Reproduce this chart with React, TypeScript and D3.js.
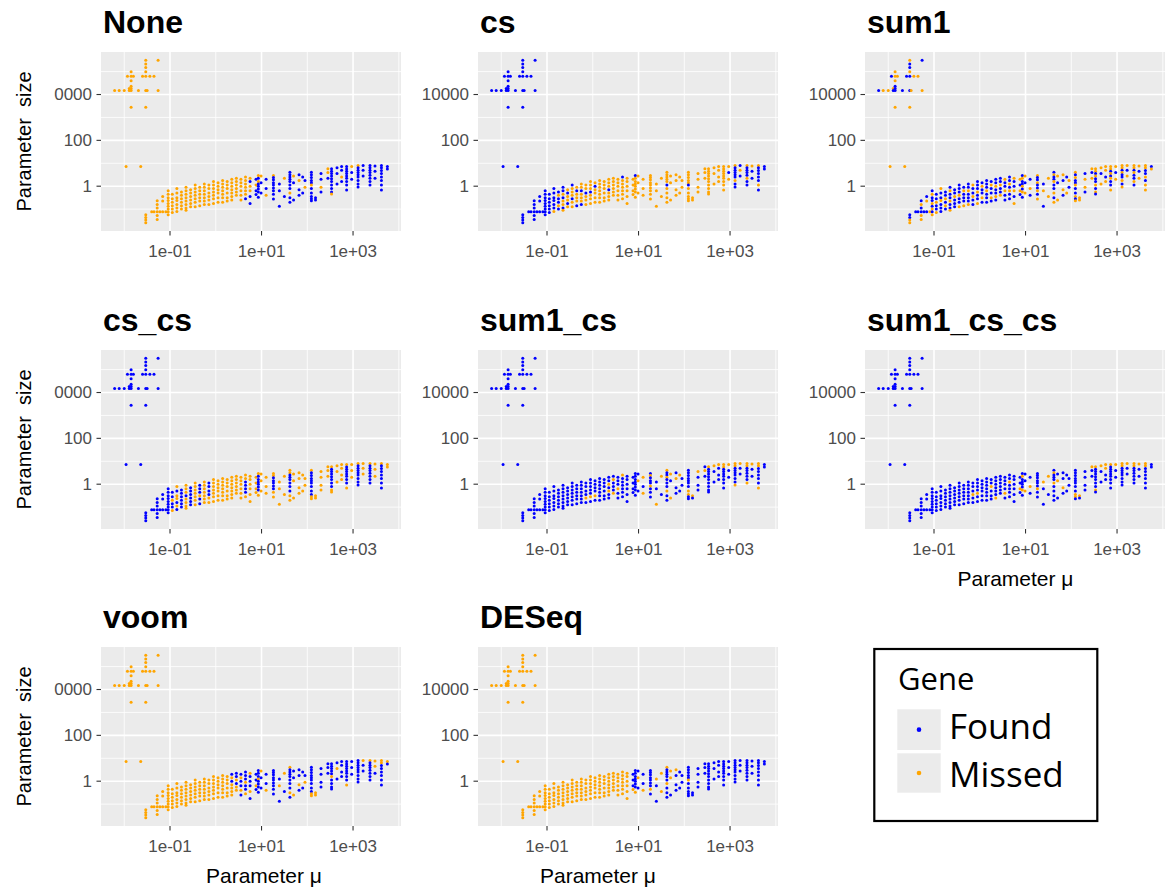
import React from "react";
import * as d3 from "d3";

// simulated genes, grouped in columns of equal mean: log10(mu) of the column
const columnLogMu: number[] = [
  -2.21, -2.11, -2.0, -1.96, -1.93, -1.89, -1.85, -1.8, -1.69, -1.64,
  -1.6, -1.53, -1.53, -1.5, -1.44, -1.4, -1.35, -1.28, -1.26, -1.22,
  -1.16, -1.09, -1.04, -0.95, -0.85, -0.75, -0.65, -0.55, -0.45, -0.35,
  -0.25, -0.15, -0.05, 0.05, 0.15, 0.25, 0.35, 0.45, 0.55, 0.65,
  0.75, 0.88, 0.93, 0.99, 1.1, 1.26, 1.39, 1.5, 1.62, 1.7,
  1.95, 2.09, 2.18, 2.3, 2.45, 2.53, 2.65, 2.75, 2.86, 2.97,
  3.11, 3.22, 3.37, 3.48, 3.62, 3.75, 1.82, 1.9,
];

// log10(size) of the genes in each column
const columnLogSize: number[][] = [
  [4.17], [4.17], [4.17], [0.86], [4.8], [4.26, 4.17],
  [4.99, 4.8, 4.6, 4.36, 4.26, 4.17, 3.44], [4.8], [4.17], [0.86],
  [4.8], [5.5, 5.33, 5.18, 4.99, 4.8, 4.17, 3.44], [-1.25, -1.37, -1.48, -1.6],
  [4.17], [4.8], [-1.11], [4.8, -1.11], [-0.63, -0.8, -0.95, -1.11, -1.28, -1.45],
  [5.5, 4.17], [-1.11],
  [-0.45, -0.65, -1.11], [-1.11], [-0.2, -0.35, -0.5, -0.62, -0.75, -0.88, -1.0, -1.11, -1.25],
  [-0.35, -0.55, -0.7, -0.85, -1.0, -1.15], [-0.1, -0.3, -0.5, -0.62, -0.8, -0.95, -1.1],
  [-0.25, -0.4, -0.55, -0.7, -0.85, -1.0], [-0.05, -0.2, -0.35, -0.5, -0.65, -0.8, -0.95, -1.05],
  [-0.15, -0.3, -0.45, -0.6, -0.75, -0.9], [0.05, -0.1, -0.25, -0.4, -0.55, -0.7, -0.9],
  [-0.05, -0.2, -0.35, -0.5, -0.65, -0.85],
  [0.1, -0.05, -0.2, -0.35, -0.5, -0.65, -0.8], [0.05, -0.1, -0.3, -0.45, -0.6, -0.8],
  [0.2, 0.05, -0.1, -0.25, -0.4, -0.55, -0.75], [0.15, 0.0, -0.15, -0.3, -0.5, -0.7],
  [0.25, 0.1, -0.05, -0.2, -0.35, -0.5, -0.7], [0.2, 0.05, -0.1, -0.3, -0.5, -0.65],
  [0.3, 0.15, 0.0, -0.15, -0.3, -0.45, -0.6], [0.35, 0.2, 0.05, -0.1, -0.25, -0.4],
  [0.3, 0.15, 0.0, -0.2, -0.4, -0.6], [0.4, 0.25, 0.1, -0.05, -0.2, -0.35, -0.55],
  [0.35, 0.2, 0.0, -0.2, -0.45, -0.75], [0.3, 0.05, -0.2, -0.36],
  [0.47, 0.35, 0.2, 0.1, 0.0, -0.12, -0.25, -0.48], [0.45, 0.15, -0.3], [0.3, -0.1, -0.4],
  [0.47, 0.38, 0.28, 0.15, 0.05, -0.08, -0.2, -0.35, -0.56], [0.1, -0.2, -0.87], [0.35, -0.45],
  [0.61, 0.5, 0.4, 0.3, 0.2, 0.05, -0.1, -0.3, -0.5, -0.7], [0.45, 0.15, -0.6],
  [0.25, -0.05], [0.61, 0.5, 0.38, 0.25, 0.15, 0.05, -0.1, -0.3, -0.45, -0.55, -0.63],
  [-0.5, -0.6], [0.55, 0.3, -0.05, -0.25], [0.76, 0.6, 0.35],
  [0.76, 0.65, 0.55, 0.45, 0.32, 0.2, 0.05, -0.1, -0.25, -0.34], [0.8, 0.55, 0.1],
  [0.86, 0.7, 0.4, 0.2], [0.86, 0.75, 0.65, 0.55, 0.45, 0.35, 0.2, 0.05, -0.17],
  [0.86, 0.6, 0.3], [0.9, 0.8, 0.7, 0.6, 0.5, 0.4, 0.25, 0.1, -0.04], [0.9, 0.7, 0.45],
  [0.9, 0.8, 0.7, 0.6, 0.48, 0.35, 0.2, 0.05], [0.88, 0.65, 0.35],
  [0.9, 0.8, 0.68, 0.55, 0.4, 0.25, 0.05, -0.17], [0.86, 0.75],
  [0.5, 0.25, -0.15, -0.4], [0.4, -0.3],
];

const panelNames = ["None", "cs", "sum1", "cs_cs", "sum1_cs", "sum1_cs_cs", "voom", "DESeq"];

// F = Found, M = Missed. One chunk per column; a single letter covers the whole column
const statusNone = `
M M M M M M M M M M
M M M M M M M M M M
M M M M M M M M M M
M M M M M M M M M MMMMMMF
MFMMFF FMFF MFMFFFFF MFF FFM MFFFFFFFF FFF MF FFFFFFFMFF MFF
FM FFFFFMFFFFF FF FFMF MMF FFFFFFFFFM FFF FFMF F MFF
MFFFFFFFF F F F F F FMFF FF`;

const statusCs = `
F F F F F F F F F F
F F F F F F F F F F
F F F F FFFFFFM FMFFMF FFMFMMFM MFMMFM FMMMFMM MFMMMF
MMFMMMF MMFMMM MMMFMMM MFMMMM M M MMMFMMM M M FMMMMMM
M M FMMMMMMM M M M M M MMMMMFMMMM M
M MMMMMFMMMMM M M M M M M M MFM
MFFFFFMFF FMF MFFFFMFF MFF MFFFFFMF FF M M`;

const statusSum1 = `
F M M M F MF MMMFFFM M F M
F MFFMFFM FFMM M M F MF FMFFMM FM F
FMF M FMFFMFMFM FFMFFM MFFMFFF FFMFMF FMFFMFFM FFMFFF FFFMFFM FMFFFM
FFMFFFM MFFMFF FFFMFFM FMFFMF FFFMFFF FMFFMF FFMFFMF FFMFFM MFFMFF FFMFMFF
MFFMFM MFMF FMFFMFMF MFM FMF MFFMFFMFM FMF MM FMFFMFFMFM MFM
MF MFMFFMFFMFM MM FMMF MFM MMFMFFMFMF MFM MMFM MMFMFMFFM MFM
MMFMFFMFM MFM MMFMFFMF MFM MMFFMFMM FM MFMF FM`;

const statusCsCs = `
F F F F F F F F F F
F F F F F F F F F F
F F F FFMFFM MFMMFMF FFFFFF MMMFMMMM FFFFFF MMMMMMM FFFMFF
M FFFFMM M M M M M M M MMFFFFM
M M MFFFFFFM M M MMFFFFFMM M M MMFFFFFFMM M
M MFFFFFFFFMM M M M MFFFFFFFMM M M MFFFFFFFM M
MFFFFFFFF M MFFFFFFF M MFFFFFFF M M M`;

const statusSum1Cs = `
F F F F F F F F F F
F F F F F F F F F F
F F F F F F F F F F
F FFFFMF FFFFFMF FFFFMF F F FFMFMFF FMFFFM FFFMFF MFFFFFF
F F F FMF MFM FMFFFMFFF FFM MF MFFMFFFMFF MFM
F FFFFFFFMMFF MF MFFF FMF MFFFFFFFFF MFF MFFF MMFFFFFFF MFF
MMFFFFFFM MFF MMFFFFFM MFF MMFFFFFM F FMFF MF`;

const statusSum1CsCs = `
F F F F F F F F F F
F F F F F F F F F F
F F F F F F F F F F
F FFFMFF FFFFMFF F F FFMFFF FFFFFFM F FFFFMF FFMFFFF
F FFMF FMFFFFMF FFM FMF FFFFFFMFF MFF MF FMFFFMFFFF FMF
F FFFFFFFFMMF MF F MFF MFFFFFFFMF MFF MMFF MFFFFFFFF MFF
MMFFFFFFF MFF MMFFFFFF MFF MMFFFFFF F FFMF FF`;

const statusVoom = `
M M M M M M M M M M
M M M M M M M M M M
M M M M M M M M M M
M M M M M M FMFMMMM FFMFMM FMFFMF FFFMFFM
MFFFMF FFMF FFFMFFFF MFF FFM F FMF MF MFFFFFFFMF FFM
FM FFFFFFFFFMM MM F F FFFFFMFFFF FMF F FFFFFFFFM F
F MFF MFFFFFFF MMF MMFFFFFF MF FFMF FF`;

const statusDESeq = `
M M M M M M M M M M
M M M M M M M M M M
M M M M M M M M M M
M M M M M M M M M M
M FFFM FFFFFFFM FMF FFM FFFFFFFMF MFF MM MFFFFFMFFF MMF
F FFFFFMFFFFF F F F F F F F F
F F F F F F MFFF FF`;

const panelStatus = [statusNone, statusCs, statusSum1, statusCsCs, statusSum1Cs, statusSum1CsCs, statusVoom, statusDESeq];

const xTickValues = [1e-1, 1e1, 1e3];
const xTickLabels = ["1e-01", "1e+01", "1e+03"];
const yTickValues = [1, 100, 10000];
const yTickLabels = ["1", "100", "10000"];
const xMinorValues = [1e-2, 1, 1e2, 1e4];
const yMinorValues = [1e-1, 10, 1e3, 1e5];

const legendLabels = ["Found", "Missed"];
const colorOf: Record<string, string> = { F: "#0000FF", M: "#FFA500" };

const PANEL_W = 300;
const PANEL_H = 179;
const colLeft = [101, 478, 865];
const rowTop = [52, 350, 647];
// where the x title sits relative to the panel centre, as in the picture
const xTitleShift: Record<number, number> = { 5: 0.5, 6: 13, 7: -30 };

const AXIS_FONT = "'Liberation Sans', Arial, sans-serif";

type Pt = { mu: number; size: number; ci: number; k: number };
const points: Pt[] = columnLogMu.flatMap((lu, ci) =>
  columnLogSize[ci].map((ls, k) => ({ mu: Math.pow(10, lu), size: Math.pow(10, ls), ci, k }))
);

function expand(ext: [number, number]): [number, number] {
  const pad = (ext[1] - ext[0]) * 0.05;
  return [Math.pow(10, ext[0] - pad), Math.pow(10, ext[1] + pad)];
}
const xDomain = expand(d3.extent(columnLogMu) as [number, number]);
const yDomain = expand(d3.extent(columnLogSize.flat()) as [number, number]);

function statusFor(code: string, ci: number, k: number) {
  const chunks = code.trim().split(/\s+/);
  const chunk = chunks[ci] ?? "M";
  return chunk.length === 1 ? chunk : chunk[k] ?? chunk[chunk.length - 1];
}

const Panel = ({ index }: { index: number }) => {
  const col = index % 3;
  const row = Math.floor(index / 3);
  const left = colLeft[col];
  const top = rowTop[row];
  const x = d3.scaleLog().domain(xDomain).range([left, left + PANEL_W]);
  const y = d3.scaleLog().domain(yDomain).range([top + PANEL_H, top]);
  const code = panelStatus[index];
  const labelRight = left - 9;
  const clip = col === 0 ? "url(#leftClip)" : undefined;
  const showXTitle = index in xTitleShift;

  return (
    <g>
      <text x={left + 2} y={top - 19} fontFamily={AXIS_FONT} fontWeight="bold" fontSize={32} fill="#000">
        {panelNames[index]}
      </text>
      <rect x={left} y={top} width={PANEL_W} height={PANEL_H} fill="#EBEBEB" />
      {xMinorValues.filter(v => v > xDomain[0] && v < xDomain[1]).map(v => (
        <line key={"xm" + v} x1={x(v)} x2={x(v)} y1={top} y2={top + PANEL_H} stroke="#fff" strokeWidth={0.8} />
      ))}
      {yMinorValues.filter(v => v > yDomain[0] && v < yDomain[1]).map(v => (
        <line key={"ym" + v} x1={left} x2={left + PANEL_W} y1={y(v)} y2={y(v)} stroke="#fff" strokeWidth={0.8} />
      ))}
      {xTickValues.map(v => (
        <line key={"xM" + v} x1={x(v)} x2={x(v)} y1={top} y2={top + PANEL_H} stroke="#fff" strokeWidth={1.6} />
      ))}
      {yTickValues.map(v => (
        <line key={"yM" + v} x1={left} x2={left + PANEL_W} y1={y(v)} y2={y(v)} stroke="#fff" strokeWidth={1.6} />
      ))}
      {points.map((p, i) => (
        <circle key={i} cx={x(p.mu)} cy={y(p.size)} r={1.5} fill={colorOf[statusFor(code, p.ci, p.k)]} />
      ))}
      {xTickValues.map((v, i) => (
        <g key={"xt" + v}>
          <line x1={x(v)} x2={x(v)} y1={top + PANEL_H} y2={top + PANEL_H + 4.5} stroke="#333" strokeWidth={1.1} />
          <text x={x(v)} y={top + PANEL_H + 26} textAnchor="middle" fontFamily={AXIS_FONT} fontSize={17} fill="#4D4D4D">
            {xTickLabels[i]}
          </text>
        </g>
      ))}
      {yTickValues.map((v, i) => (
        <g key={"yt" + v}>
          <line x1={left - 4.5} x2={left} y1={y(v)} y2={y(v)} stroke="#333" strokeWidth={1.1} />
          <text x={labelRight} y={y(v)} dy="0.35em" textAnchor="end" fontFamily={AXIS_FONT} fontSize={17} fill="#4D4D4D" clipPath={clip}>
            {yTickLabels[i]}
          </text>
        </g>
      ))}
      {col === 0 && (
        <text transform={`translate(31,${top + PANEL_H / 2}) rotate(-90)`} textAnchor="middle" fontFamily={AXIS_FONT} fontSize={20} fill="#000" style={{ whiteSpace: "pre" }}>
          {"Parameter  size"}
        </text>
      )}
      {showXTitle && (
        <text x={left + PANEL_W / 2 + xTitleShift[index]} y={top + PANEL_H + 57} textAnchor="middle" fontFamily={AXIS_FONT} fontSize={21} fill="#000">
          Parameter μ
        </text>
      )}
    </g>
  );
};

const Legend = () => {
  const LEG_FONT = "'Open Sans', 'Noto Sans', sans-serif";
  const keyTop = [709.3, 753.3];
  const keyH = [40.7, 39.4];
  const keys = ["F", "M"];
  return (
    <g>
      <rect x={874.3} y={649} width={223} height={172} fill="#fff" stroke="#000" strokeWidth={2.2} />
      <text x={898} y={690} fontFamily={LEG_FONT} fontSize={31} fill="#000">Gene</text>
      {legendLabels.map((lab, i) => (
        <g key={lab}>
          <rect x={897.3} y={keyTop[i]} width={43.4} height={keyH[i]} fill="#EBEBEB" />
          <circle cx={919} cy={keyTop[i] + keyH[i] / 2} r={2.3} fill={colorOf[keys[i]]} />
          <text x={949} y={i === 0 ? 739.3 : 786.7} fontFamily={LEG_FONT} fontSize={35} fill="#000">{lab}</text>
        </g>
      ))}
    </g>
  );
};

export default function App() {
  return (
    <svg width={1170} height={892} style={{ position: "absolute", left: 0, top: 0, background: "#fff" }}>
      <defs>
        <clipPath id="leftClip">
          <rect x={54} y={0} width={60} height={892} />
        </clipPath>
      </defs>
      <rect x={0} y={0} width={1170} height={892} fill="#fff" />
      {panelNames.map((_, i) => (
        <Panel key={i} index={i} />
      ))}
      <Legend />
    </svg>
  );
}
